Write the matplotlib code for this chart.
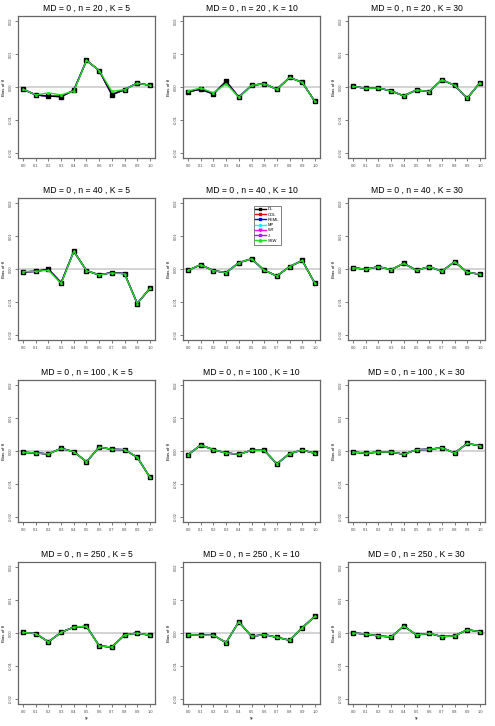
import matplotlib
matplotlib.use('Agg')
import matplotlib.pyplot as plt

plt.rcParams['font.family'] = ['Liberation Sans', 'DejaVu Sans']

# tau^2 grid used in every panel
tau2 = [0.0, 0.1, 0.2, 0.3, 0.4, 0.5, 0.6, 0.7, 0.8, 0.9, 1.0]
tau2_labels = ['0.0', '0.1', '0.2', '0.3', '0.4', '0.5', '0.6', '0.7', '0.8', '0.9', '1.0']
yticks = [-0.02, -0.01, 0.0, 0.01, 0.02]
ytick_labels = ['-0.02', '-0.01', '0.00', '0.01', '0.02']

n_values = [20, 40, 100, 250]
k_values = [5, 10, 30]

# bias (DL and most estimators coincide)
bias_n20_k5 = [-0.0007, -0.0024, -0.0028, -0.0029, -0.0010, 0.0081, 0.0050, -0.0023, -0.0008, 0.0012, 0.0005]
bias_n20_k10 = [-0.0014, -0.0007, -0.0021, 0.0017, -0.0031, 0.0005, 0.0010, -0.0007, 0.0029, 0.0014, -0.0044]
bias_n20_k30 = [0.0002, -0.0004, -0.0003, -0.0012, -0.0027, -0.0009, -0.0014, 0.0022, 0.0005, -0.0034, 0.0013]
bias_n40_k5 = [-0.0009, -0.0007, -0.0001, -0.0042, 0.0054, -0.0005, -0.0018, -0.0011, -0.0014, -0.0105, -0.0059]
bias_n40_k10 = [-0.0004, 0.0013, -0.0005, -0.0011, 0.0019, 0.0031, -0.0004, -0.0021, 0.0007, 0.0026, -0.0044]
bias_n40_k30 = [0.0004, -0.0001, 0.0007, -0.0002, 0.0017, -0.0004, 0.0007, -0.0007, 0.0022, -0.0010, -0.0016]
bias_n100_k5 = [-0.0004, -0.0006, -0.0009, 0.0008, -0.0002, -0.0033, 0.0012, 0.0005, 0.0004, -0.0019, -0.0080]
bias_n100_k10 = [-0.0011, 0.0018, 0.0004, -0.0006, -0.0010, 0.0002, 0.0002, -0.0039, -0.0008, 0.0003, -0.0007]
bias_n100_k30 = [-0.0003, -0.0007, -0.0003, -0.0003, -0.0010, 0.0004, 0.0005, 0.0010, -0.0006, 0.0023, 0.0016]
bias_n250_k5 = [0.0002, -0.0002, -0.0027, 0.0002, 0.0018, 0.0020, -0.0039, -0.0043, -0.0006, 0.0000, -0.0007]
bias_n250_k10 = [-0.0005, -0.0007, -0.0007, -0.0029, 0.0034, -0.0010, -0.0005, -0.0013, -0.0022, 0.0016, 0.0051]
bias_n250_k30 = [0.0000, -0.0003, -0.0009, -0.0012, 0.0021, -0.0006, -0.0001, -0.0011, -0.0009, 0.0010, 0.0004]

# SSW where it visibly departs from the others
ssw_n20_k5 = [-0.0007, -0.0024, -0.0018, -0.0024, -0.0012, 0.0081, 0.0050, -0.0013, -0.0008, 0.0012, 0.0005]
ssw_n20_k10 = [-0.0012, -0.0003, -0.0018, 0.0010, -0.0031, 0.0005, 0.0010, -0.0007, 0.0029, 0.0014, -0.0044]
ssw_n40_k5 = [-0.0008, -0.0007, -0.0004, -0.0044, 0.0054, -0.0005, -0.0018, -0.0012, -0.0015, -0.0105, -0.0059]

bias = [[bias_n20_k5, bias_n20_k10, bias_n20_k30],
        [bias_n40_k5, bias_n40_k10, bias_n40_k30],
        [bias_n100_k5, bias_n100_k10, bias_n100_k30],
        [bias_n250_k5, bias_n250_k10, bias_n250_k30]]
ssw = [[ssw_n20_k5, ssw_n20_k10, bias_n20_k30],
       [ssw_n40_k5, bias_n40_k10, bias_n40_k30],
       [bias_n100_k5, bias_n100_k10, bias_n100_k30],
       [bias_n250_k5, bias_n250_k10, bias_n250_k30]]

methods = ['DL', 'CDL', 'REML', 'MP', 'WT', 'J', 'SSW']
colors = ['black', 'red', 'blue', 'cyan', 'magenta', '#A020F0', '#22DD22']
markers = ['s', 's', 's', '*', 'v', 's', '^']

W, H = 495, 726
fig = plt.figure(figsize=(W / 100, H / 100), dpi=100)

col_left = [18, 183, 348]
row_top = [16, 198, 380, 562]
ax_w, ax_h = 137, 142

for r, n in enumerate(n_values):
    for c, k in enumerate(k_values):
        ax = fig.add_axes([col_left[c] / W, 1 - (row_top[r] + ax_h) / H, ax_w / W, ax_h / H])
        ax.axhline(0, color='#cccccc', linewidth=1.2, zorder=1)

        y = bias[r][c]
        # everything except SSW follows the common values
        for m, col, mk in zip(methods[1:6], colors[1:6], markers[1:6]):
            ax.plot(tau2, y, color=col, linewidth=1.0, marker=mk, markersize=1.5, zorder=2)
        ax.plot(tau2, y, color='black', linewidth=0.9, marker='s', markersize=3, zorder=3)
        ax.plot(tau2, ssw[r][c], color=colors[6], linewidth=1.0, marker='^', markersize=1.2, zorder=4)

        ax.set_xlim(-0.04, 1.04)
        ax.set_ylim(-0.0216, 0.0216)
        ax.set_xticks(tau2)
        ax.set_xticklabels(tau2_labels, fontsize=2.8)
        ax.set_yticks(yticks)
        ax.set_yticklabels(ytick_labels, fontsize=2.8, rotation=90, va='center')
        ax.tick_params(length=2, width=0.5, pad=2, colors='#444444')
        for s in ax.spines.values():
            s.set_color('#666666')
            s.set_linewidth(0.9)
        ax.set_title(f'MD = 0 , n = {n} , K = {k}', fontsize=6.2, pad=3.5)
        ax.set_ylabel('Bias of θ', fontsize=3.2, labelpad=2)
        if r == 3:
            ax.set_xlabel('τ²', fontsize=3.5, labelpad=2)

        if r == 1 and c == 1:
            handles = [plt.Line2D([], [], color=col, marker=mk, markersize=2, linewidth=1)
                       for col, mk in zip(colors, markers)]
            leg = ax.legend(handles, methods, loc='upper left', bbox_to_anchor=(0.5, 0.96),
                            fontsize=3, frameon=True, fancybox=False, handlelength=2.5,
                            borderpad=0.4, labelspacing=0.3, handletextpad=0.5)
            leg.get_frame().set_edgecolor('#444444')
            leg.get_frame().set_linewidth(0.6)

fig.savefig('out.png', dpi=100)
